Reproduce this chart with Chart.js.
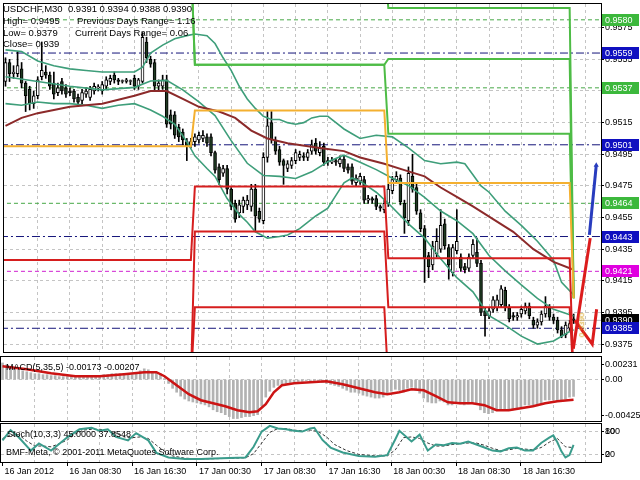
<!DOCTYPE html>
<html>
<head>
<meta charset="utf-8">
<title>USDCHF,M30</title>
<script src="https://cdn.jsdelivr.net/npm/chart.js@4.4.1/dist/chart.umd.min.js"></script>
<style>
  html, body { margin: 0; padding: 0; background: #fff; }
  body { position: relative; width: 640px; height: 480px; overflow: hidden; font-family: 'Liberation Sans', Arial, sans-serif; }
  .pane { position: absolute; left: 0; width: 640px; }
  .txt { position: absolute; font-size: 9px; line-height: 11px; color: #000; white-space: pre; z-index: 5; }
  .head { font-size: 9.5px; }
  .vtxt { position: absolute; font-size: 8px; line-height: 8px; color: #d9a520; white-space: pre; transform: rotate(-90deg); z-index: 5; }
</style>
</head>
<body>
<div class="pane" style="top:0;height:356px"><canvas id="mainChart"></canvas></div>
<div class="pane" style="top:356px;height:66px"><canvas id="macdChart"></canvas></div>
<div class="pane" style="top:422px;height:58px"><canvas id="stochChart"></canvas></div>

<div class="txt head" style="left:3px;top:3px">USDCHF,M30  0.9391 0.9394 0.9388 0.9390</div>
<div class="txt head" style="left:3px;top:15px">High= 0.9495</div>
<div class="txt head" style="left:77px;top:15px">Previous Days Range= 1.16</div>
<div class="txt head" style="left:3px;top:27px">Low= 0.9379</div>
<div class="txt head" style="left:75px;top:27px">Current Days Range= 0.06</div>
<div class="txt head" style="left:3px;top:38px">Close= 0.939</div>
<div class="txt" style="left:6px;top:362px">MACD(5,35,5) -0.00173 -0.00207</div>
<div class="txt" style="left:7px;top:429px">Stoch(10,3,3) 45.0000 37.8548</div>
<div class="txt" style="left:6px;top:447px">BMF-Meta, © 2001-2011 MetaQuotes Software Corp.</div>
<div class="vtxt" style="left:570px;top:321px">0.9390</div>

<script>
// visible bar range (bar 0 = 16 Jan 00:30, M30)
const xMin = -0.37, xMax = 147.78;
const gridBars = [8, 16, 24, 32, 40, 48, 56, 64, 72, 80, 88, 96, 104, 112, 120, 128, 136, 144];
const labelBars = [0, 16, 32, 48, 64, 80, 96, 112, 128];
const timeLabels = ['16 Jan 2012', '16 Jan 08:30', '16 Jan 16:30', '17 Jan 00:30', '17 Jan 08:30',
    '17 Jan 16:30', '18 Jan 00:30', '18 Jan 08:30', '18 Jan 16:30'];
const priceTicks = [0.9375, 0.9395, 0.9415, 0.9435, 0.9455, 0.9475, 0.9495, 0.9515, 0.9535, 0.9555, 0.9575];

// candles
const opens = [
    .9541, .9553, .9546, .9546, .9549, .9540, .9536, .9527, .9532, .9544,
    .9547, .9545, .9540, .9534, .9541, .9537, .9535, .9535, .9531, .9529,
    .9533, .9531, .9535, .9537, .9535, .9538, .9541, .9545, .9542, .9541,
    .9541, .9541, .9543, .9538, .9541, .9566, .9555, .9553, .9538, .9538,
    .9542, .9520, .9520, .9512, .9509, .9503, .9501, .9503, .9504, .9505,
    .9506, .9506, .9496, .9487, .9483, .9486, .9473, .9464, .9458, .9462,
    .9463, .9462, .9473, .9459, .9453, .9493, .9515, .9504, .9498, .9491,
    .9486, .9488, .9491, .9493, .9494, .9493, .9497, .9502, .9496, .9500,
    .9491, .9490, .9491, .9489, .9492, .9487, .9487, .9477, .9478, .9479,
    .9466, .9467, .9467, .9462, .9460, .9464, .9472, .9479, .9480, .9464,
    .9453, .9481, .9474, .9458, .9448, .9431, .9425, .9432, .9435, .9451,
    .9436, .9420, .9434, .9430, .9424, .9423, .9431, .9433, .9426, .9396,
    .9393, .9397, .9398, .9400, .9409, .9398, .9393, .9392, .9394, .9396,
    .9399, .9390, .9387, .9389, .9394, .9398, .9392, .9390, .9384, .9381,
    .9385, .9391];
const highs = [
    .9556, .9555, .9551, .9560, .9553, .9541, .9538, .9535, .9544, .9566,
    .9551, .9547, .9547, .9540, .9543, .9539, .9537, .9536, .9533, .9536,
    .9537, .9538, .9540, .9539, .9541, .9544, .9545, .9547, .9543, .9542,
    .9543, .9542, .9545, .9543, .9572, .9569, .9557, .9555, .9542, .9545,
    .9545, .9523, .9522, .9514, .9511, .9505, .9505, .9508, .9509, .9510,
    .9508, .9508, .9497, .9489, .9488, .9488, .9474, .9466, .9466, .9468,
    .9469, .9476, .9476, .9461, .9496, .9522, .9522, .9506, .9500, .9492,
    .9491, .9493, .9498, .9497, .9496, .9498, .9504, .9505, .9503, .9502,
    .9493, .9493, .9492, .9494, .9494, .9489, .9489, .9482, .9483, .9481,
    .9469, .9468, .9469, .9463, .9466, .9476, .9481, .9484, .9482, .9466,
    .9487, .9495, .9476, .9460, .9450, .9433, .9440, .9448, .9460, .9454,
    .9438, .9438, .9460, .9432, .9426, .9432, .9441, .9442, .9428, .9398,
    .9398, .9405, .9406, .9412, .9411, .9400, .9395, .9395, .9399, .9401,
    .9401, .9392, .9391, .9396, .9405, .9400, .9394, .9392, .9386, .9389,
    .9390, .9394];
const lows = [
    .9538, .9541, .9543, .9544, .9537, .9522, .9523, .9524, .9530, .9542,
    .9543, .9536, .9530, .9532, .9533, .9531, .9532, .9528, .9526, .9527,
    .9531, .9529, .9533, .9535, .9533, .9536, .9539, .9540, .9539, .9540,
    .9540, .9539, .9536, .9536, .9540, .9553, .9550, .9535, .9535, .9536,
    .9512, .9511, .9505, .9503, .9501, .9491, .9499, .9500, .9502, .9503,
    .9500, .9494, .9483, .9476, .9481, .9470, .9460, .9452, .9455, .9458,
    .9460, .9459, .9446, .9452, .9451, .9490, .9502, .9495, .9488, .9476,
    .9484, .9486, .9489, .9491, .9491, .9491, .9495, .9495, .9494, .9488,
    .9488, .9489, .9488, .9487, .9484, .9483, .9476, .9475, .9476, .9464,
    .9464, .9464, .9460, .9459, .9458, .9462, .9470, .9477, .9463, .9445,
    .9450, .9471, .9457, .9446, .9414, .9417, .9422, .9430, .9433, .9435,
    .9416, .9418, .9432, .9421, .9420, .9421, .9429, .9424, .9393, .9380,
    .9391, .9395, .9396, .9398, .9396, .9389, .9390, .9390, .9392, .9394,
    .9391, .9385, .9385, .9387, .9392, .9390, .9388, .9382, .9379, .9379,
    .9383, .9388];
const closes = [
    .9553, .9546, .9547, .9551, .9540, .9532, .9527, .9532, .9542, .9548,
    .9545, .9538, .9533, .9537, .9535, .9533, .9534, .9530, .9528, .9534,
    .9535, .9536, .9538, .9537, .9539, .9542, .9543, .9542, .9541, .9541,
    .9542, .9541, .9538, .9542, .9569, .9556, .9552, .9538, .9540, .9542,
    .9514, .9514, .9507, .9506, .9504, .9500, .9503, .9506, .9507, .9507,
    .9502, .9496, .9485, .9479, .9486, .9473, .9462, .9454, .9463, .9466,
    .9466, .9473, .9456, .9454, .9493, .9513, .9504, .9497, .9490, .9488,
    .9489, .9491, .9496, .9495, .9493, .9496, .9501, .9497, .9499, .9490,
    .9490, .9491, .9490, .9492, .9486, .9485, .9478, .9480, .9481, .9466,
    .9467, .9466, .9462, .9461, .9464, .9473, .9479, .9481, .9465, .9455,
    .9483, .9473, .9459, .9448, .9429, .9424, .9437, .9440, .9450, .9437,
    .9425, .9436, .9440, .9423, .9422, .9430, .9438, .9426, .9395, .9393,
    .9396, .9403, .9403, .9410, .9398, .9391, .9392, .9393, .9397, .9399,
    .9393, .9387, .9389, .9394, .9399, .9392, .9390, .9384, .9380, .9387,
    .9388, .9390];

// Bollinger bands and moving average, read as [bar, price]
const bbUpper = [[0, .9561], [4, .9560], [8, .9554], [12, .9551], [16, .9549], [20, .9548], [24, .9547], [28, .9547],
    [32, .9547], [34, .9550], [36, .9559], [39, .9564], [42, .9568], [45, .9570], [47, .9571], [50, .9570], [52, .9565],
    [54, .9556], [56, .9548], [58, .9538], [60, .9530], [62, .9524], [64, .9519], [66, .9517], [68, .9517], [70, .9515],
    [72, .9514], [74, .9515], [76, .9518], [78, .9519], [80, .9519], [82, .9515], [84, .9511], [86, .9508], [88, .9505],
    [92, .9507], [96, .9506], [100, .9499], [104, .9491], [108, .9489], [112, .9490], [114, .9489], [116, .9482],
    [118, .9475], [120, .9471], [124, .9459], [128, .9450], [132, .9440], [136, .9428], [138, .9414], [141, .9406]];
const bbMiddle = [[0, .9544], [8, .9541], [16, .9538], [24, .95357], [32, .95373], [36, .95413], [40, .95417],
    [44, .95357], [48, .95281], [52, .95195], [56, .95036], [60, .94893], [64, .94816], [68, .9481], [72, .94797],
    [76, .94839], [80, .94903], [84, .94944], [88, .9490], [92, .94853], [96, .94799], [100, .94753], [104, .94678],
    [108, .94591], [112, .9453], [116, .94448], [120, .9431], [124, .94213], [128, .94124], [132, .94039],
    [136, .9397], [141, .93928]];
const bbLower = [[0, .9527], [4, .9526], [8, .9528], [12, .9527], [16, .9527], [20, .9526], [24, .9524], [28, .9526],
    [32, .9527], [34, .9525], [36, .9523], [39, .9519], [42, .9514], [45, .9503], [47, .9494], [50, .9486], [52, .9481],
    [55, .9467], [58, .9457], [60, .9452], [62, .9446], [65, .9442], [68, .9443], [70, .9444], [73, .9448], [77, .9456],
    [80, .9461], [82, .9469], [84, .9477], [86, .9480], [88, .9478], [92, .9471], [95, .9464], [100, .9451],
    [104, .9442], [108, .9429], [112, .9417], [116, .9408], [120, .9393], [124, .9387], [128, .9380], [132, .9375],
    [136, .9377], [140, .9383], [141, .9384]];
const maLine = [[0, .9513], [4, .9518], [8, .9521], [16, .9525], [24, .9527], [32, .9532], [36, .9535], [40, .9535],
    [44, .9530], [48, .9525], [53, .9522], [57, .9518], [61, .9510], [65, .9505], [70, .9502], [78, .9499], [84, .9497],
    [88, .9493], [94, .9489], [99, .9485], [104, .9481], [108, .9474], [112, .9468], [116, .9462], [121, .9454],
    [126, .9446], [131, .9435], [136, .9427], [141, .9422]];

// daily range levels: day 1, day 2, day 3, current bar
const dayEnds = [46, 94, 140];
const orangeLevels = [0.9500, 0.95227, 0.94768, 0.9404];
const greenLevels = [
    [0.9620, 0.9620, 0.95874, 0.9404],
    [0.9620, 0.95516, 0.95553, 0.9404],
    [0.9620, 0.95516, 0.9508, 0.9404]];
const redLevels = [
    [0.94281, 0.94747, 0.94292, 0.9350],
    [0.9350, 0.94462, 0.93983, 0.9350],
    [0.9350, 0.93983, 0.9350, 0.9350]];

// horizontal lines and price tags
const navyLevels = [0.9559, 0.9501, 0.9443, 0.9385];
const magentaLevels = [0.9421];
const greenDashLevels = [0.9580, 0.9537, 0.9464];
const bidLevel = 0.9390;
const tagPrices = [0.9580, 0.9559, 0.9537, 0.9501, 0.9464, 0.9443, 0.9421, 0.9390, 0.9385];
const tagColors = ['#3cb83c', '#1010c0', '#3cb83c', '#1010c0', '#3cb83c', '#1010c0', '#e000e0', '#000000', '#1010c0'];

// projection zigzag at the right edge
const zigRedUp = [[140.9, 0.9372], [145.1, 0.9442]];
const zigRedV = [[141.3, 0.9390], [145.6, 0.9375], [146.7, 0.9397]];
const zigBlue = [[144.9, 0.9444], [146.6, 0.9488]];

// MACD(5,35,5)
const macdMax = 0.00231, macdMin = -0.00425;
const macdTickLabels = ['0.00231', '0.00', '-0.00425'];
const macdMain = [
    0.0017, 0.0015, 0.0013, 0.0012, 0.0010, 0.0009,
    0.0008, 0.0007, 0.0006, 0.0006, 0.0005, 0.0005,
    0.0004, 0.0004, 0.0003, 0.0003, 0.0003, 0.0003,
    0.0003, 0.0003, 0.0004, 0.0004, 0.0004, 0.0004,
    0.0004, 0.0005, 0.0005, 0.0006, 0.0006, 0.0006,
    0.0006, 0.0006, 0.0005, 0.0006, 0.0009, 0.0011,
    0.0010, 0.0008, 0.0007, 0.0006, 0.0001, -0.0004,
    -0.0009, -0.0013, -0.0017, -0.0020, -0.0022, -0.0023,
    -0.0024, -0.0025, -0.0026, -0.0028, -0.0031, -0.0033,
    -0.0034, -0.0036, -0.0038, -0.0040, -0.0040, -0.0039,
    -0.0038, -0.0038, -0.0037, -0.0036, -0.0027, -0.0018,
    -0.0012, -0.0008, -0.0006, -0.0005, -0.0004, -0.0003,
    -0.0002, -0.0002, -0.0002, -0.0001, -0.0001, -0.0001,
    -0.0001, -0.0003, -0.0004, -0.0005, -0.0006, -0.0007,
    -0.0009, -0.0011, -0.0013, -0.0013, -0.0014, -0.0016,
    -0.0017, -0.0018, -0.0019, -0.0019, -0.0018, -0.0015,
    -0.0012, -0.0010, -0.0011, -0.0013, -0.0009, -0.0008,
    -0.0011, -0.0014, -0.0019, -0.0023, -0.0024, -0.0024,
    -0.0022, -0.0023, -0.0026, -0.0026, -0.0024, -0.0025,
    -0.0026, -0.0025, -0.0024, -0.0025, -0.0031, -0.0034,
    -0.0035, -0.0034, -0.0032, -0.0030, -0.0030, -0.0031,
    -0.0031, -0.0030, -0.0028, -0.0026, -0.0026, -0.0027,
    -0.0026, -0.0024, -0.0021, -0.0021, -0.0021, -0.0022,
    -0.0022, -0.0020, -0.0018, -0.00173];
const macdSignal = [[0, 0.00136], [6, 0.00106], [12, 0.00065], [18, 0.00034], [24, 0.00034], [30, 0.00054],
    [35, 0.00075], [38, 0.00075], [40, 0.00034], [43, -0.00058], [46, -0.0015], [49, -0.00212], [52, -0.00243],
    [55, -0.00274], [58, -0.00315], [61, -0.00335], [63, -0.00325], [65, -0.00253], [67, -0.0013], [69, -0.00058],
    [72, -0.00038], [76, -0.00028], [80, -0.00017], [84, -0.00048], [88, -0.00089], [92, -0.0013], [95, -0.0015],
    [98, -0.0013], [101, -0.00099], [104, -0.0011], [107, -0.0017], [110, -0.00233], [113, -0.00243],
    [116, -0.00243], [119, -0.00263], [122, -0.00315], [125, -0.00315], [128, -0.00294], [131, -0.00274],
    [134, -0.00243], [137, -0.00222], [141, -0.00207]];

// Stochastic(10,3,3)
const stochTicks = [80, 80, 20, 20];
const stochTickLabels = ['100', '80', '0', '20'];
const stochMain = [[0, 57], [2, 84], [4, 65], [7, 30], [9, 49], [12, 30], [16, 65], [19, 86], [22, 90], [24, 82],
    [26, 86], [28, 66], [31, 57], [33, 76], [36, 57], [38, 24], [41, 12], [45, 8], [49, 8], [54, 10], [60, 12],
    [62, 40], [64, 80], [66, 95], [68, 88], [70, 86], [72, 82], [74, 80], [76, 88], [77, 90], [79, 58], [81, 38],
    [84, 25], [88, 16], [92, 14], [95, 18], [97, 60], [98, 82], [101, 54], [103, 72], [105, 30], [107, 46], [109, 44],
    [111, 50], [113, 48], [115, 54], [117, 46], [119, 38], [121, 30], [123, 28], [125, 36], [127, 38], [129, 30],
    [131, 30], [133, 50], [135, 64], [136, 70], [137, 52], [138, 28], [139, 12], [140, 18], [141, 45]];
const stochSignal = [[0, 62], [2, 70], [4, 72], [6, 55], [8, 42], [10, 42], [12, 40], [14, 48], [16, 58], [18, 74],
    [20, 84], [22, 86], [24, 86], [26, 84], [28, 76], [30, 66], [32, 64], [34, 66], [36, 62], [38, 44], [40, 28],
    [42, 16], [45, 10], [49, 8], [54, 9], [60, 11], [62, 22], [64, 50], [66, 78], [68, 88], [70, 88], [72, 84],
    [74, 82], [76, 84], [78, 80], [80, 66], [82, 46], [85, 30], [88, 20], [92, 16], [95, 16], [97, 32], [99, 64],
    [101, 66], [103, 62], [105, 50], [107, 42], [109, 42], [111, 46], [113, 48], [115, 50], [117, 50], [119, 44],
    [121, 36], [123, 30], [125, 32], [127, 36], [129, 34], [131, 32], [133, 38], [135, 52], [137, 62], [139, 40],
    [141, 37.85]];

// ---------- helpers ----------
const font = { family: "'Liberation Sans', Arial, sans-serif", size: 9 };
const gridColor = '#c4c4c4';
const clear = 'rgba(0,0,0,0)';
const toXY = pairs => pairs.map(p => ({ x: p[0], y: p[1] }));
const flat = level => [{ x: xMin - 1, y: level }, { x: xMax + 1, y: level }];
const stepLine = levels => [
    { x: xMin - 1, y: levels[0] }, { x: dayEnds[0], y: levels[0] },
    { x: dayEnds[0] + 1, y: levels[1] }, { x: dayEnds[1], y: levels[1] },
    { x: dayEnds[1] + 1, y: levels[2] }, { x: dayEnds[2], y: levels[2] },
    { x: dayEnds[2] + 1, y: levels[3] }];

const line = (data, color, width, order, extra) => Object.assign({
    type: 'line', data, borderColor: color, borderWidth: width, pointRadius: 0, tension: 0, fill: false, order
}, extra || {});

const xAxis = (height, showLabels) => ({
    type: 'linear', min: xMin, max: xMax, offset: false,
    afterBuildTicks: s => { s.ticks = (showLabels ? [0].concat(gridBars) : gridBars).map(v => ({ value: v })); },
    afterFit: s => { s.height = height; s.paddingLeft = 0; s.paddingRight = 0; },
    ticks: {
        display: showLabels, autoSkip: false, maxRotation: 0, align: 'start', labelOffset: 2, padding: 0,
        color: '#000', font,
        callback: v => { const k = labelBars.indexOf(v); return k >= 0 ? timeLabels[k] : ''; }
    },
    grid: {
        offset: false, drawTicks: showLabels, tickLength: 4, tickBorderDash: [],
        color: c => (c.tick && c.tick.value === 0) ? clear : gridColor,
        tickColor: c => (c.tick && labelBars.includes(c.tick.value)) ? '#000' : clear
    },
    border: { display: false, dash: [3, 3] }
});

const yAxis = (min, max, buildTicks, labelFn, gridFn) => ({
    position: 'right', min, max,
    afterBuildTicks: s => { s.ticks = buildTicks().map(v => ({ value: v })); },
    afterFit: s => { s.width = 39; s.paddingTop = 0; s.paddingBottom = 0; },
    ticks: { color: '#000', font, padding: 1, autoSkip: false, callback: labelFn },
    grid: { color: gridFn, tickLength: 3, tickColor: '#000', tickBorderDash: [] },
    border: { display: true, color: '#000', dash: [3, 3] }
});

const framePlugin = {
    id: 'frame',
    afterDraw(chart) {
        const { ctx, chartArea: a } = chart;
        ctx.save();
        ctx.strokeStyle = '#000';
        ctx.lineWidth = 1;
        ctx.strokeRect(a.left - 0.5, a.top - 0.5, a.right - a.left + 1, a.bottom - a.top + 1);
        ctx.restore();
    }
};

const tagPlugin = {
    id: 'priceTags',
    afterDraw(chart) {
        const { ctx, chartArea, scales: { y } } = chart;
        ctx.save();
        ctx.font = "9px 'Liberation Sans', Arial, sans-serif";
        ctx.textBaseline = 'middle';
        tagPrices.forEach((p, i) => {
            const py = Math.round(y.getPixelForValue(p));
            ctx.fillStyle = tagColors[i];
            ctx.fillRect(chartArea.right + 1, py - 6, 37, 12);
            ctx.fillStyle = '#fff';
            ctx.fillText(p.toFixed(4), chartArea.right + 4, py + 0.5);
        });
        ctx.restore();
    }
};

const baseOptions = (padding, scales) => ({
    responsive: true, maintainAspectRatio: false, animation: false, events: [],
    layout: { padding },
    plugins: { legend: { display: false }, tooltip: { enabled: false } },
    scales
});

// ---------- main price chart ----------
const bars = closes.map((c, i) => i);
const datasets = [];

navyLevels.forEach(l => datasets.push(line(flat(l), '#14147a', 1, 30, { borderDash: [8, 3, 2, 3] })));
magentaLevels.forEach(l => datasets.push(line(flat(l), '#d020d0', 1, 30, { borderDash: [4, 3] })));
greenDashLevels.forEach(l => datasets.push(line(flat(l), '#46a846', 1, 30, { borderDash: [4, 3] })));
datasets.push(line(flat(bidLevel), '#b8b8b8', 1, 30));

datasets.push({
    type: 'bar', grouped: false, order: 25, barThickness: 1,
    data: bars.map(i => ({ x: i, y: [lows[i], highs[i]] })),
    backgroundColor: '#000'
});
datasets.push({
    type: 'bar', grouped: false, order: 24, barThickness: 3, minBarLength: 1,
    data: bars.map(i => ({ x: i, y: [Math.min(opens[i], closes[i]), Math.max(opens[i], closes[i])] })),
    backgroundColor: bars.map(i => closes[i] >= opens[i] ? '#ffffff' : '#1f3a22'),
    borderColor: '#000', borderWidth: 1, borderSkipped: false
});

datasets.push(line(toXY(bbUpper), 'rgb(62,158,122)', 1.6, 20));
datasets.push(line(toXY(bbMiddle), 'rgb(62,158,122)', 1.6, 20));
datasets.push(line(toXY(bbLower), 'rgb(62,158,122)', 1.6, 20));
datasets.push(line(toXY(maLine), 'rgb(140,42,42)', 2, 19));

datasets.push(line(stepLine(orangeLevels), 'rgb(244,176,48)', 2, 15));
greenLevels.forEach(l => datasets.push(line(stepLine(l), 'rgb(78,188,70)', 2, 15)));
redLevels.forEach(l => datasets.push(line(stepLine(l), 'rgb(214,30,30)', 2, 14)));

datasets.push(line(toXY(zigRedUp), 'rgb(220,28,28)', 3, 5));
datasets.push(line(toXY(zigRedV), 'rgb(220,28,28)', 3, 5));
datasets.push(line(toXY(zigBlue), 'rgb(40,60,190)', 3, 4, {
    pointRadius: [0, 3], pointStyle: 'triangle', pointBackgroundColor: 'rgb(40,60,190)', pointBorderWidth: 0
}));

new Chart(document.getElementById('mainChart'), {
    type: 'line',
    data: { datasets },
    options: baseOptions({ left: 1, top: 1, right: 0, bottom: 1 }, {
        x: xAxis(0, false),
        y: yAxis(0.9370, 0.9590, () => priceTicks, v => v.toFixed(4), () => gridColor)
    }),
    plugins: [framePlugin, tagPlugin]
});

// ---------- MACD ----------
new Chart(document.getElementById('macdChart'), {
    type: 'line',
    data: {
        datasets: [
            {
                type: 'bar', grouped: false, order: 5, barThickness: 2,
                data: bars.map(i => ({ x: i, y: macdMain[i] })),
                backgroundColor: '#b2b2b2'
            },
            line(toXY(macdSignal), 'rgb(204,20,20)', 2.5, 1)
        ]
    },
    options: baseOptions({ left: 1, top: 1, right: 0, bottom: 1 }, {
        x: xAxis(0, false),
        y: yAxis(macdMin, macdMax,
            () => [macdMax - 0.12 * (macdMax - macdMin), 0, macdMin + 0.09 * (macdMax - macdMin)],
            (v, i) => macdTickLabels[i],
            c => (c.tick && c.tick.value === 0) ? gridColor : clear)
    }),
    plugins: [framePlugin]
});

// ---------- Stochastic ----------
new Chart(document.getElementById('stochChart'), {
    type: 'line',
    data: {
        datasets: [
            line(toXY(stochSignal), '#333', 1, 2, { borderDash: [3, 2] }),
            line(toXY(stochMain), 'rgb(58,156,140)', 2, 1)
        ]
    },
    options: baseOptions({ left: 1, top: 2, right: 0, bottom: 0 }, {
        x: xAxis(18, true),
        y: yAxis(0, 100, () => stochTicks, (v, i) => stochTickLabels[i], () => gridColor)
    }),
    plugins: [framePlugin]
});
</script>
</body>
</html>
